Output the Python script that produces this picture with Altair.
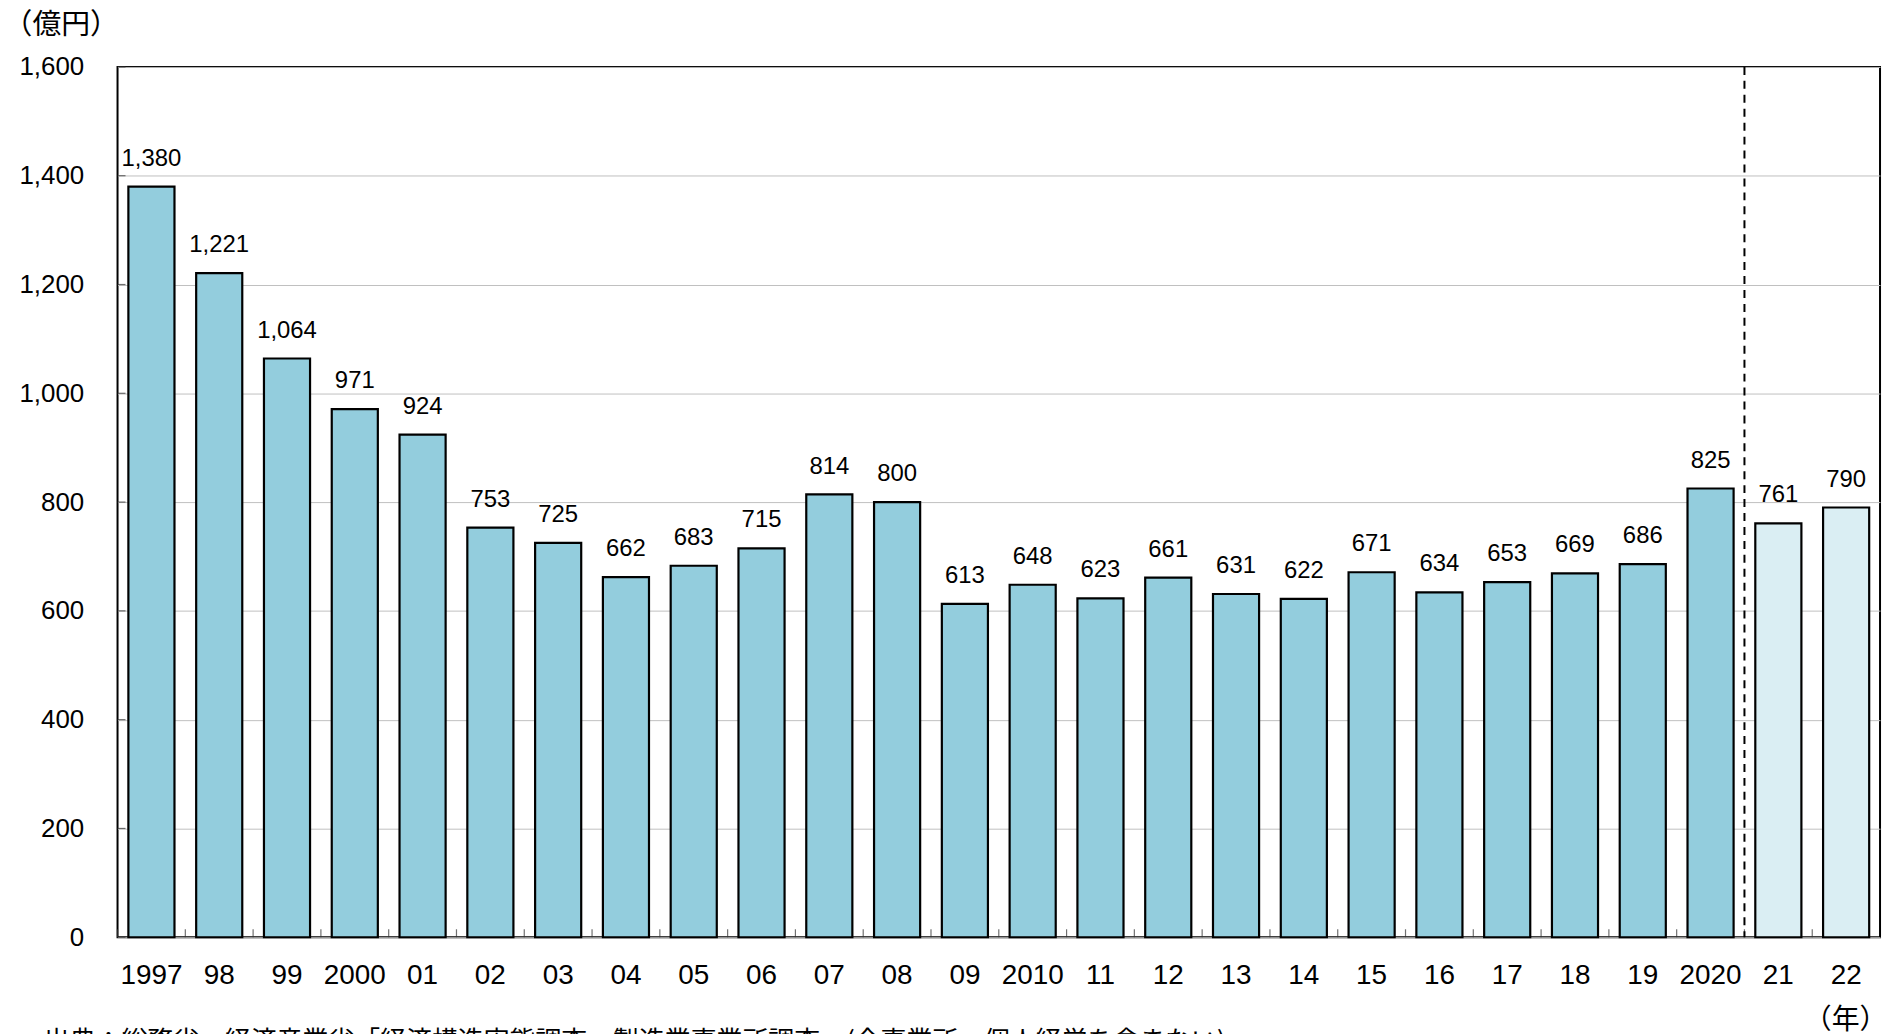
import altair as alt
import pandas as pd

years = ["1997", "98", "99", "2000", "01", "02", "03", "04", "05", "06", "07", "08", "09",
         "2010", "11", "12", "13", "14", "15", "16", "17", "18", "19", "2020", "21", "22"]
values = [1380, 1221, 1064, 971, 924, 753, 725, 662, 683, 715, 814, 800, 613,
          648, 623, 661, 631, 622, 671, 634, 653, 669, 686, 825, 761, 790]
groups = ["工業統計"] * 24 + ["経済構造実態調査"] * 2
group_names = ["工業統計", "経済構造実態調査"]
group_colors = ["#93CDDD", "#DAEEF3"]
y_ticks = [0, 200, 400, 600, 800, 1000, 1200, 1400, 1600]
break_year = ["21"]

footer = "出典：総務省・経済産業省「経済構造実態調査、製造業事業所調査」(全事業所、個人経営を含まない)"

W, H = 1770, 874
N = len(years)
step = W / N

df = pd.DataFrame({"year": years, "value": values, "group": groups})
tick_df = pd.DataFrame({"t": y_ticks})
break_df = pd.DataFrame({"year": break_year})

JP = "Noto Sans CJK JP"
LAT = "Liberation Sans"

x_enc = alt.X(
    "year:N", sort=years,
    scale=alt.Scale(paddingInner=0.32, paddingOuter=0.16),
    axis=alt.Axis(
        title="（年）", titleFont=JP, titleFontSize=28, titleFontWeight="normal",
        titleAlign="right", titleBaseline="top", titleX=W + 7, titleY=70,
        titleColor="black",
        labelFont=LAT, labelFontSize=28, labelColor="black", labelPadding=24,
        labelAngle=0, ticks=False, domain=False, grid=False,
    ),
)
y_scale = alt.Scale(domain=[0, 1600], nice=False)
y_enc = alt.Y(
    "value:Q", scale=y_scale,
    axis=alt.Axis(
        values=y_ticks, format=",d", title="（億円）", titleFont=JP, titleFontSize=29,
        titleFontWeight="normal", titleAngle=0, titleAlign="left", titleBaseline="top",
        titleX=-115, titleY=-57, titleColor="black",
        labelFont=LAT, labelFontSize=26, labelColor="black", labelPadding=34,
        ticks=False, domain=False, grid=True, gridColor="#c0c0c0", gridWidth=1,
    ),
)

bars = alt.Chart(df).mark_bar(stroke="black", strokeWidth=2.2).encode(
    x=x_enc, y=y_enc,
    color=alt.Color("group:N", scale=alt.Scale(domain=group_names, range=group_colors), legend=None),
)

labels = alt.Chart(df).mark_text(
    dy=-21, baseline="alphabetic", align="center", font=LAT, fontSize=24, color="black"
).encode(
    x=alt.X("year:N", sort=years),
    y=alt.Y("value:Q", scale=y_scale),
    text=alt.Text("value:Q", format=","),
)

xticks = alt.Chart(df).mark_tick(
    orient="vertical", size=8, thickness=1.2, color="#333333", xOffset=-step / 2, yOffset=-4
).encode(
    x=alt.X("year:N", sort=years),
    y=alt.Y("zero:Q", scale=y_scale),
).transform_calculate(zero="0")

yticks = alt.Chart(tick_df).mark_tick(
    orient="horizontal", size=8, thickness=1.2, color="#333333"
).encode(
    x=alt.value(4),
    y=alt.Y("t:Q", scale=y_scale),
)

dash = alt.Chart(break_df).mark_rule(
    strokeDash=[8, 6], strokeWidth=2, color="black", xOffset=-step / 2
).encode(
    x=alt.X("year:N", sort=years),
)

chart = alt.layer(bars, xticks, yticks, dash, labels).properties(
    width=W, height=H,
    background="white",
    autosize=alt.AutoSizeParams(type="none"),
    padding={"left": 110, "top": 57, "right": 7, "bottom": 95},
    title=alt.TitleParams(
        text=footer, orient="bottom", anchor="start", font=JP, fontSize=26,
        fontWeight="normal", color="black", offset=-6, dx=41,
    ),
).configure_view(
    stroke="black", strokeWidth=2
)

chart.save("out.html", embed_options={"renderer": "svg", "actions": False})
